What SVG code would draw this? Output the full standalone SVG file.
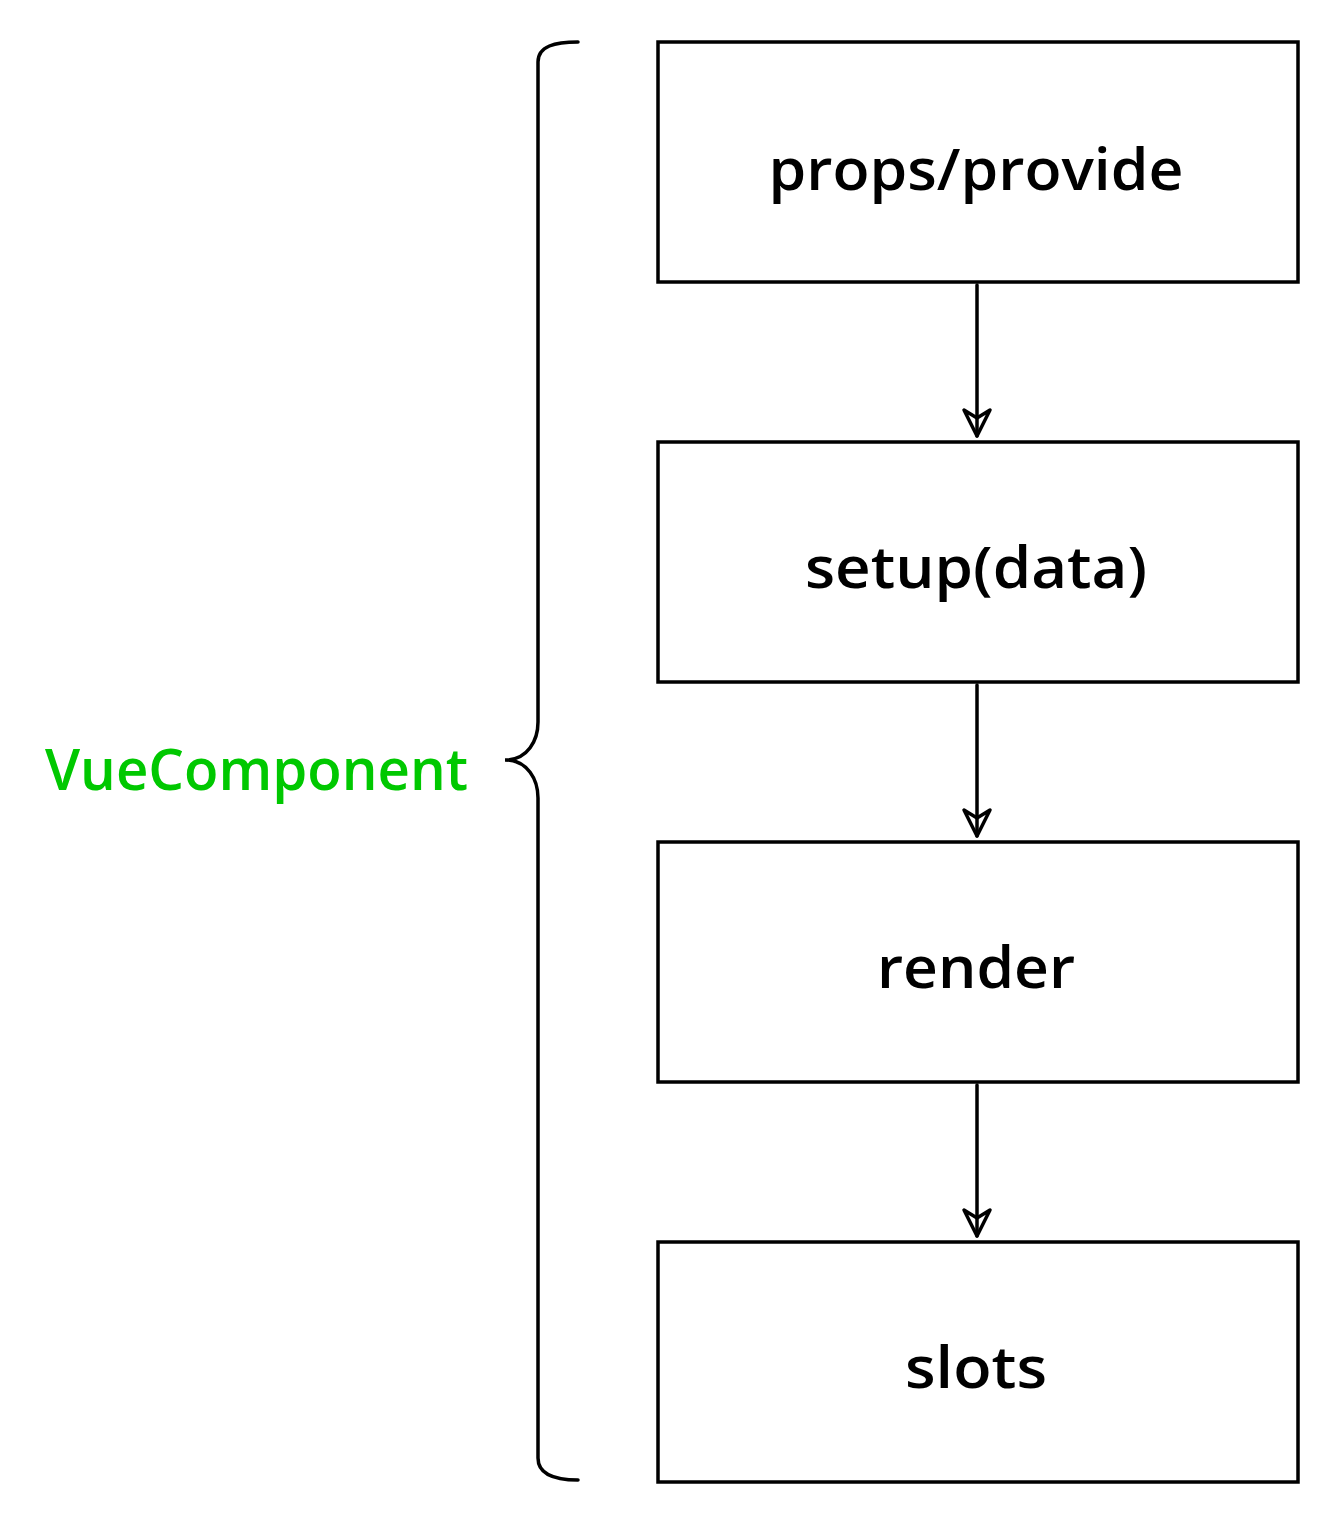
<svg xmlns="http://www.w3.org/2000/svg" width="1340" height="1524" viewBox="0 0 1340 1524">
<style>
.box{fill:#fff;stroke:#000;stroke-width:3.5}
.lbl{font-family:"Open Sans","Liberation Sans",sans-serif;font-size:58px;font-weight:600;fill:#000;text-anchor:middle}
.edge{fill:none;stroke:#000;stroke-width:3.5;stroke-linecap:round}
.head{fill:none;stroke:#000;stroke-width:3.5;stroke-linejoin:round}
</style>
<rect width="1340" height="1524" fill="#fff"/>
<g id="node-props">
<rect class="box" x="658" y="42" width="640" height="240"/>
<text class="lbl" x="976" y="190" textLength="415" lengthAdjust="spacingAndGlyphs">props/provide</text>
</g>
<g id="node-setup">
<rect class="box" x="658" y="442" width="640" height="240"/>
<text class="lbl" x="976" y="588" textLength="342" lengthAdjust="spacingAndGlyphs">setup(data)</text>
</g>
<g id="node-render">
<rect class="box" x="658" y="842" width="640" height="240"/>
<text class="lbl" x="976" y="988" textLength="198" lengthAdjust="spacingAndGlyphs">render</text>
</g>
<g id="node-slots">
<rect class="box" x="658" y="1242" width="640" height="240"/>
<text class="lbl" x="976" y="1388" textLength="142" lengthAdjust="spacingAndGlyphs">slots</text>
</g>
<g id="brace">
<path class="edge" d="M578 42 C555 42 538 46 538 62 L538 722 C538 740 528 760 505 760 C528 760 538 780 538 798 L538 1458 C538 1474 555 1480 578 1480"/>
<text x="45" y="790" font-family="Open Sans, Liberation Sans, sans-serif" font-size="58" font-weight="600" fill="#00c800" textLength="423" lengthAdjust="spacingAndGlyphs">VueComponent</text>
</g>
<g id="connectors">
<path class="edge" d="M977 285 L977 436"/>
<path class="head" d="M977 436 L964 410 L977 418 L990 410 Z"/>
<path class="edge" d="M977 685 L977 836"/>
<path class="head" d="M977 836 L964 810 L977 818 L990 810 Z"/>
<path class="edge" d="M977 1085 L977 1236"/>
<path class="head" d="M977 1236 L964 1210 L977 1218 L990 1210 Z"/>
</g>
</svg>
